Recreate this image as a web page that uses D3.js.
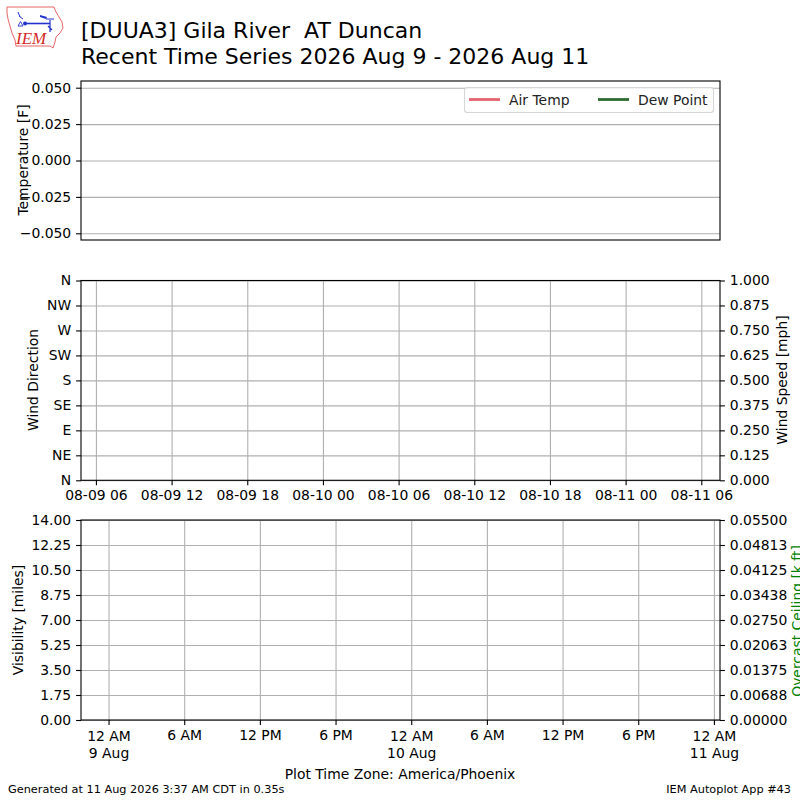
<!DOCTYPE html>
<html>
<head>
<meta charset="utf-8">
<script src="https://cdn.jsdelivr.net/npm/d3@7"></script>
<style>
  html, body { margin: 0; padding: 0; background: #fff; }
  svg { display: block; font-family: "DejaVu Sans", sans-serif; }
</style>
</head>
<body>
<main></main>
<script>
// time window shown (UTC)
const timeStart = new Date(Date.UTC(2026, 7, 9, 4, 49));
const timeEnd = new Date(Date.UTC(2026, 7, 11, 7, 29));
const tzOffsetHours = -7; // America/Phoenix

// series (the station reported nothing in this window)
const airTemp = [];
const dewPoint = [];
const windDir = [];
const windSpeed = [];
const visibility = [];
const ceiling = [];

// axis ticks
const tempTicks = [-0.05, -0.025, 0, 0.025, 0.05];
const dirTicks = [0, 45, 90, 135, 180, 225, 270, 315, 360];
const dirLabels = ["N", "NE", "E", "SE", "S", "SW", "W", "NW", "N"];
const speedTicks = [0, 0.125, 0.25, 0.375, 0.5, 0.625, 0.75, 0.875, 1];
const visTicks = [0, 1.75, 3.5, 5.25, 7, 8.75, 10.5, 12.25, 14];
const ceilTicks = [0, 0.006875, 0.01375, 0.020625, 0.0275, 0.034375, 0.04125, 0.048125, 0.055];
const ceilLabels = ["0.00000", "0.00688", "0.01375", "0.02063", "0.02750", "0.03438", "0.04125", "0.04813", "0.05500"];

const legendItems = [
    { name: "Air Temp", color: "#e3646c" },
    { name: "Dew Point", color: "#2e6b31" }
];

const W = 800, H = 800;
const left = 81, right = 720;
const panels = {
    temp: [81, 240],
    wind: [280.5, 480.3],
    vis: [520, 720]
};
const tick = 4.9, pad = 4.9, fs = 13.9;
const gridColor = "#b0b0b0";

const svg = d3.select("main").append("svg").attr("width", W).attr("height", H);

const x = d3.scaleUtc().domain([timeStart, timeEnd]).range([left, right]);
// same scale but with the wall clock of Phoenix
const shift = d => new Date(+d + tzOffsetHours * 3600e3);
const xLocal = d3.scaleUtc().domain([shift(timeStart), shift(timeEnd)]).range([left, right]);

function styleAxis(g, color) {
    g.select(".domain").remove();
    g.selectAll(".tick line").attr("stroke", "#000").attr("stroke-width", 1.1);
    g.selectAll(".tick text").attr("font-size", fs).attr("font-family", "DejaVu Sans").attr("fill", color || "#000");
}

function grid(g, axis) {
    g.call(axis.tickFormat(""));
    g.select(".domain").remove();
    g.selectAll(".tick line").attr("stroke", gridColor).attr("stroke-width", 1.1);
}

function frame(y0, y1) {
    svg.append("rect")
        .attr("x", left).attr("y", y0)
        .attr("width", right - left).attr("height", y1 - y0)
        .attr("fill", "none").attr("stroke", "#000").attr("stroke-width", 1.1);
}

function yLabel(text, xpos, ycenter, color) {
    svg.append("text")
        .attr("transform", `translate(${xpos},${ycenter}) rotate(-90)`)
        .attr("text-anchor", "middle")
        .attr("font-size", fs)
        .attr("fill", color || "#000")
        .text(text);
}

// ---- temperature panel
const yTemp = d3.scaleLinear().domain([-0.0546, 0.0546]).range([panels.temp[1], panels.temp[0]]);
svg.append("g").attr("transform", `translate(${left},0)`)
    .call(g => grid(g, d3.axisLeft(yTemp).tickValues(tempTicks).tickSize(-(right - left))));
const tempLine = d3.line().x(d => x(d.t)).y(d => yTemp(d.v));
svg.append("path").datum(airTemp).attr("d", tempLine).attr("fill", "none").attr("stroke", legendItems[0].color).attr("stroke-width", 2);
svg.append("path").datum(dewPoint).attr("d", tempLine).attr("fill", "none").attr("stroke", legendItems[1].color).attr("stroke-width", 2);
svg.append("g").attr("transform", `translate(${left},0)`)
    .call(d3.axisLeft(yTemp).tickValues(tempTicks).tickSize(tick).tickPadding(pad)
        .tickFormat(d => d3.format(".3f")(d).replace("-", "\u2212")))
    .call(g => styleAxis(g));
frame(...panels.temp);
yLabel("Temperature [F]", 27.5, 160);

// legend
const lg = svg.append("g").attr("transform", "translate(464.5,87.5)");
lg.append("rect").attr("width", 249).attr("height", 25).attr("rx", 3)
    .attr("fill", "#fff").attr("fill-opacity", 0.8).attr("stroke", "#d6d6d6").attr("stroke-width", 1.1);
const li = lg.selectAll("g.item").data(legendItems).enter().append("g")
    .attr("class", "item")
    .attr("transform", (d, i) => `translate(${4.5 + i * 129},0)`);
li.append("line").attr("x1", 0).attr("x2", 31).attr("y1", 12).attr("y2", 12)
    .attr("stroke", d => d.color).attr("stroke-width", 2.8);
li.append("text").attr("x", 40).attr("y", 17).attr("font-size", fs).attr("fill", "#222").text(d => d.name);

// ---- wind panel
const yDir = d3.scaleLinear().domain([0, 360]).range([panels.wind[1], panels.wind[0]]);
const ySpeed = d3.scaleLinear().domain([0, 1]).range([panels.wind[1], panels.wind[0]]);
const utcTicks = x.ticks(d3.utcHour.every(6));
svg.append("g").attr("transform", `translate(0,${panels.wind[1]})`)
    .call(g => grid(g, d3.axisBottom(x).tickValues(utcTicks).tickSize(-(panels.wind[1] - panels.wind[0]))));
svg.append("g").attr("transform", `translate(${left},0)`)
    .call(g => grid(g, d3.axisLeft(yDir).tickValues(dirTicks).tickSize(-(right - left))));
svg.append("g").selectAll("circle").data(windDir).enter().append("circle")
    .attr("cx", d => x(d.t)).attr("cy", d => yDir(d.v)).attr("r", 2).attr("fill", "#000");
svg.append("path").datum(windSpeed)
    .attr("d", d3.line().x(d => x(d.t)).y(d => ySpeed(d.v)))
    .attr("fill", "none").attr("stroke", "#1f77b4");
svg.append("g").attr("transform", `translate(${left},0)`)
    .call(d3.axisLeft(yDir).tickValues(dirTicks).tickSize(tick).tickPadding(pad).tickFormat((d, i) => dirLabels[i]))
    .call(g => styleAxis(g));
svg.append("g").attr("transform", `translate(${right},0)`)
    .call(d3.axisRight(ySpeed).tickValues(speedTicks).tickSize(tick).tickPadding(pad).tickFormat(d3.format(".3f")))
    .call(g => styleAxis(g));
svg.append("g").attr("transform", `translate(0,${panels.wind[1]})`)
    .call(d3.axisBottom(x).tickValues(utcTicks).tickSize(tick).tickPadding(pad).tickFormat(d3.utcFormat("%m-%d %H")))
    .call(g => styleAxis(g));
frame(...panels.wind);
yLabel("Wind Direction", 38, 380);
yLabel("Wind Speed [mph]", 787, 380);

// ---- visibility / ceiling panel
const yVis = d3.scaleLinear().domain([0, 14]).range([panels.vis[1], panels.vis[0]]);
const yCeil = d3.scaleLinear().domain([0, 0.055]).range([panels.vis[1], panels.vis[0]]);
const localTicks = xLocal.ticks(d3.utcHour.every(6));
svg.append("g").attr("transform", `translate(0,${panels.vis[1]})`)
    .call(g => grid(g, d3.axisBottom(xLocal).tickValues(localTicks).tickSize(-(panels.vis[1] - panels.vis[0]))));
svg.append("g").attr("transform", `translate(${left},0)`)
    .call(g => grid(g, d3.axisLeft(yVis).tickValues(visTicks).tickSize(-(right - left))));
svg.append("path").datum(visibility)
    .attr("d", d3.line().x(d => x(d.t)).y(d => yVis(d.v)))
    .attr("fill", "none").attr("stroke", "#000");
svg.append("path").datum(ceiling)
    .attr("d", d3.line().x(d => x(d.t)).y(d => yCeil(d.v)))
    .attr("fill", "none").attr("stroke", "green");
svg.append("g").attr("transform", `translate(${left},0)`)
    .call(d3.axisLeft(yVis).tickValues(visTicks).tickSize(tick).tickPadding(pad).tickFormat(d3.format(".2f")))
    .call(g => styleAxis(g));
svg.append("g").attr("transform", `translate(${right},0)`)
    .call(d3.axisRight(yCeil).tickValues(ceilTicks).tickSize(tick).tickPadding(pad).tickFormat((d, i) => ceilLabels[i]))
    .call(g => styleAxis(g));
const hourLabel = h => h === 0 ? "12 AM" : h === 12 ? "12 PM" : (h % 12) + (h < 12 ? " AM" : " PM");
svg.append("g").attr("transform", `translate(0,${panels.vis[1]})`)
    .call(d3.axisBottom(xLocal).tickValues(localTicks).tickSize(tick).tickPadding(pad).tickFormat(""))
    .call(g => styleAxis(g))
    .call(g => g.selectAll(".tick text").each(function (d) {
        const t = d3.select(this).attr("dy", null).attr("y", null);
        const h = d.getUTCHours();
        if (h === 0) {
            t.append("tspan").attr("x", 0).attr("y", 21).text(hourLabel(h));
            t.append("tspan").attr("x", 0).attr("y", 38).text(d3.utcFormat("%-d %b")(d));
        } else {
            t.append("tspan").attr("x", 0).attr("y", 19.5).text(hourLabel(h));
        }
    }));
frame(...panels.vis);
yLabel("Visibility [miles]", 22.5, 620);
// label runs off the right edge a little, as in the source image
yLabel("Overcast Ceiling [k ft]", 801.5, 621, "green");

svg.append("text").attr("x", 400).attr("y", 779).attr("text-anchor", "middle")
    .attr("font-size", fs).text("Plot Time Zone: America/Phoenix");

// ---- titles and footer
svg.append("text").attr("x", 81).attr("y", 37.5).attr("font-size", 22).text("[DUUA3] Gila River\u00a0 AT Duncan");
svg.append("text").attr("x", 81).attr("y", 64).attr("font-size", 22).text("Recent Time Series 2026 Aug 9 - 2026 Aug 11");
svg.append("text").attr("x", 8).attr("y", 793).attr("font-size", 11.3).text("Generated at 11 Aug 2026 3:37 AM CDT in 0.35s");
svg.append("text").attr("x", 791).attr("y", 793).attr("text-anchor", "end").attr("font-size", 11.3).text("IEM Autoplot App #43");

// ---- IEM logo (rough)
const logo = svg.append("g");
logo.append("path")
    .attr("d", "M7,7 L54,7 L56,12 L59,17 L62,22 L63,28 L60,33 L56,37 L55,42 L53,48 L50,46 L16,46 L15,40 L12,33 L10,26 L8,19 L7,13 Z")
    .attr("fill", "none").attr("stroke", "#e04040").attr("stroke-width", 0.8);
logo.append("text").attr("x", 16).attr("y", 44).attr("font-family", "Liberation Serif")
    .attr("font-style", "italic").attr("font-size", 17).attr("fill", "#d42a2a").text("IEM");
logo.append("line").attr("x1", 24).attr("y1", 23.5).attr("x2", 50).attr("y2", 23.5).attr("stroke", "#2233cc").attr("stroke-width", 1.6);
logo.append("circle").attr("cx", 25).attr("cy", 23.5).attr("r", 2).attr("fill", "#2233cc");
logo.append("path").attr("d", "M18,26 L20.5,21.5 L23,26 Z").attr("fill", "none").attr("stroke", "#2233cc").attr("stroke-width", 0.9);
logo.append("path").attr("d", "M18,12 L20,17 M19,16 L23,19").attr("stroke", "#2233cc").attr("stroke-width", 1);
logo.append("path").attr("d", "M40,15 L47,17 L46,19 L40,17 Z").attr("fill", "#2233cc");
logo.append("path").attr("d", "M46,19 L54,19 M50,20 L50,32 M48,26 L52,30").attr("stroke", "#2233cc").attr("stroke-width", 1.2);
</script>
</body>
</html>
